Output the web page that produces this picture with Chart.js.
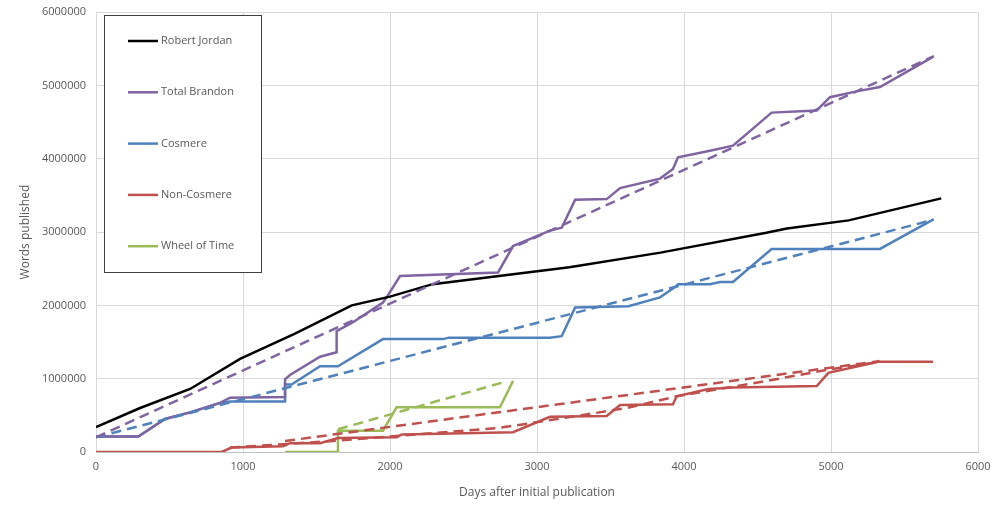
<!DOCTYPE html>
<html>
<head>
<meta charset="utf-8">
<script src="https://cdn.jsdelivr.net/npm/chart.js@4"></script>
<style>
  html, body { margin: 0; padding: 0; background: #fff; }
  #wrap { width: 1000px; height: 521px; }
</style>
</head>
<body>
<div id="wrap"><canvas id="chart"></canvas></div>
<script>
// values: days after first publication / words published
var rjDays  = [0, 300, 640, 980, 1350, 1740, 2000, 2290, 3220, 3840, 4560, 4700, 5120, 5750];
var rjWords = [340000, 600000, 860000, 1270000, 1610000, 2000000, 2120000, 2290000, 2520000, 2720000, 2990000, 3050000, 3160000, 3460000];

var tbDays  = [0, 288, 469, 640, 844, 912, 1286, 1286, 1320, 1524, 1637, 1637, 1748, 1952, 1990, 2068, 2735, 2837, 3088, 3168, 3259, 3474, 3565, 3837, 3925, 3959, 4177, 4333, 4596, 4903, 4993, 5174, 5333, 5694];
var tbWords = [210000, 210000, 450000, 540000, 670000, 740000, 750000, 990000, 1050000, 1300000, 1360000, 1650000, 1770000, 2040000, 2150000, 2400000, 2450000, 2810000, 3020000, 3060000, 3440000, 3450000, 3600000, 3730000, 3860000, 4020000, 4110000, 4180000, 4630000, 4660000, 4840000, 4920000, 4980000, 5390000];

var coDays  = [0, 288, 469, 640, 844, 912, 1286, 1286, 1330, 1524, 1646, 1952, 2361, 2400, 3088, 3168, 3259, 3622, 3837, 3939, 3960, 4177, 4245, 4333, 4596, 5333, 5694];
var coWords = [210000, 210000, 450000, 540000, 670000, 690000, 690000, 920000, 920000, 1170000, 1170000, 1540000, 1540000, 1560000, 1560000, 1580000, 1970000, 1990000, 2110000, 2250000, 2290000, 2290000, 2320000, 2320000, 2770000, 2770000, 3170000];

var ncDays  = [0, 855, 923, 1272, 1320, 1524, 1646, 2045, 2080, 2837, 3088, 3474, 3565, 3925, 3950, 4166, 4333, 4903, 4982, 5322, 5694];
var ncWords = [0, 0, 60000, 80000, 120000, 120000, 190000, 200000, 240000, 270000, 480000, 490000, 640000, 650000, 760000, 860000, 880000, 900000, 1080000, 1230000, 1230000];

var wotDays  = [1286, 1646, 1646, 1952, 2045, 2748, 2837];
var wotWords = [0, 0, 290000, 290000, 610000, 610000, 970000];

// dashed trend lines
var tbTrendDays  = [0, 5700];
var tbTrendWords = [200000, 5400000];
var coTrendDays  = [0, 5700];
var coTrendWords = [200000, 3170000];
var ncTrendDays  = [912, 1612, 2748, 3202, 3610, 3950, 4562, 5000, 5330];
var ncTrendWords = [60000, 150000, 330000, 470000, 600000, 760000, 970000, 1130000, 1230000];
var nc2TrendDays  = [1286, 5330];
var nc2TrendWords = [150000, 1240000];
var wotTrendDays  = [1646, 2770];
var wotTrendWords = [310000, 950000];

var xTicks = [0, 1000, 2000, 3000, 4000, 5000, 6000];
var yTicks = [0, 1000000, 2000000, 3000000, 4000000, 5000000, 6000000];

var BLACK = '#000000', PURPLE = '#8064A2', BLUE = '#4F81BD', RED = '#C0504D', GREEN = '#9BBB59';
var TEXT = '#595959';
var FONT = '"Open Sans", "Noto Sans", sans-serif';

function pts(xs, ys) {
  return xs.map(function(x, i) { return { x: x, y: ys[i] }; });
}

function solid(label, xs, ys, color) {
  return { label: label, data: pts(xs, ys), borderColor: color, backgroundColor: color,
           borderWidth: 2.5, pointRadius: 0, tension: 0, inLegend: true };
}

function dashed(label, xs, ys, color) {
  return { label: label, data: pts(xs, ys), borderColor: color, backgroundColor: color,
           borderWidth: 2.5, borderDash: [10, 6], pointRadius: 0, tension: 0, inLegend: false };
}

// legend box drawn inside the plot, top left
var boxLegend = {
  id: 'boxLegend',
  afterDraw: function(chart) {
    var ctx = chart.ctx;
    var x0 = 104.5, y0 = 15.5, w = 157, h = 257;
    ctx.save();
    ctx.fillStyle = '#fff';
    ctx.fillRect(x0, y0, w, h);
    ctx.strokeStyle = '#404040';
    ctx.lineWidth = 1;
    ctx.strokeRect(x0, y0, w, h);
    ctx.font = '11px ' + FONT;
    ctx.textBaseline = 'middle';
    var row = 0;
    chart.data.datasets.forEach(function(ds) {
      if (!ds.inLegend) return;
      var y = 41 + row * 51.3;
      ctx.strokeStyle = ds.borderColor;
      ctx.lineWidth = 2.5;
      ctx.beginPath();
      ctx.moveTo(128, y);
      ctx.lineTo(158, y);
      ctx.stroke();
      ctx.fillStyle = TEXT;
      ctx.fillText(ds.label, 161, y);
      row++;
    });
    ctx.restore();
  }
};

new Chart(document.getElementById('chart'), {
  type: 'line',
  data: {
    datasets: [
      dashed('Total Brandon trend', tbTrendDays, tbTrendWords, PURPLE),
      dashed('Cosmere trend', coTrendDays, coTrendWords, BLUE),
      dashed('Non-Cosmere trend', ncTrendDays, ncTrendWords, RED),
      dashed('Non-Cosmere trend 2', nc2TrendDays, nc2TrendWords, RED),
      dashed('Wheel of Time trend', wotTrendDays, wotTrendWords, GREEN),
      solid('Robert Jordan', rjDays, rjWords, BLACK),
      solid('Total Brandon', tbDays, tbWords, PURPLE),
      solid('Cosmere', coDays, coWords, BLUE),
      solid('Non-Cosmere', ncDays, ncWords, RED),
      solid('Wheel of Time', wotDays, wotWords, GREEN)
    ]
  },
  options: {
    responsive: true,
    maintainAspectRatio: false,
    animation: false,
    layout: { padding: { left: 14, right: 22, top: 0, bottom: 14 } },
    plugins: {
      legend: { display: false },
      tooltip: { enabled: false }
    },
    scales: {
      x: {
        type: 'linear', min: 0, max: 6000,
        afterBuildTicks: function(s) { s.ticks = xTicks.map(function(v) { return { value: v }; }); },
        afterFit: function(s) { s.height = 55; },
        grid: { color: '#d9d9d9', drawTicks: false },
        border: { color: '#bfbfbf' },
        ticks: { color: TEXT, font: { family: FONT, size: 11 }, padding: 8, maxRotation: 0,
                 callback: function(v) { return String(v); } },
        title: { display: true, text: 'Days after initial publication', color: TEXT,
                 font: { family: FONT, size: 12 }, padding: { top: 6, bottom: 7 } }
      },
      y: {
        type: 'linear', min: 0, max: 6000000,
        afterBuildTicks: function(s) { s.ticks = yTicks.map(function(v) { return { value: v }; }); },
        afterFit: function(s) { s.width = 82; },
        grid: { color: '#d9d9d9', drawTicks: false },
        border: { color: '#d9d9d9' },
        ticks: { color: TEXT, font: { family: FONT, size: 11, lineHeight: 0.4 }, padding: 10,
                 callback: function(v) { return String(v); } },
        title: { display: true, text: 'Words published', color: TEXT,
                 font: { family: FONT, size: 12 }, padding: { bottom: 0 } }
      }
    }
  },
  plugins: [boxLegend]
});
</script>
</body>
</html>
